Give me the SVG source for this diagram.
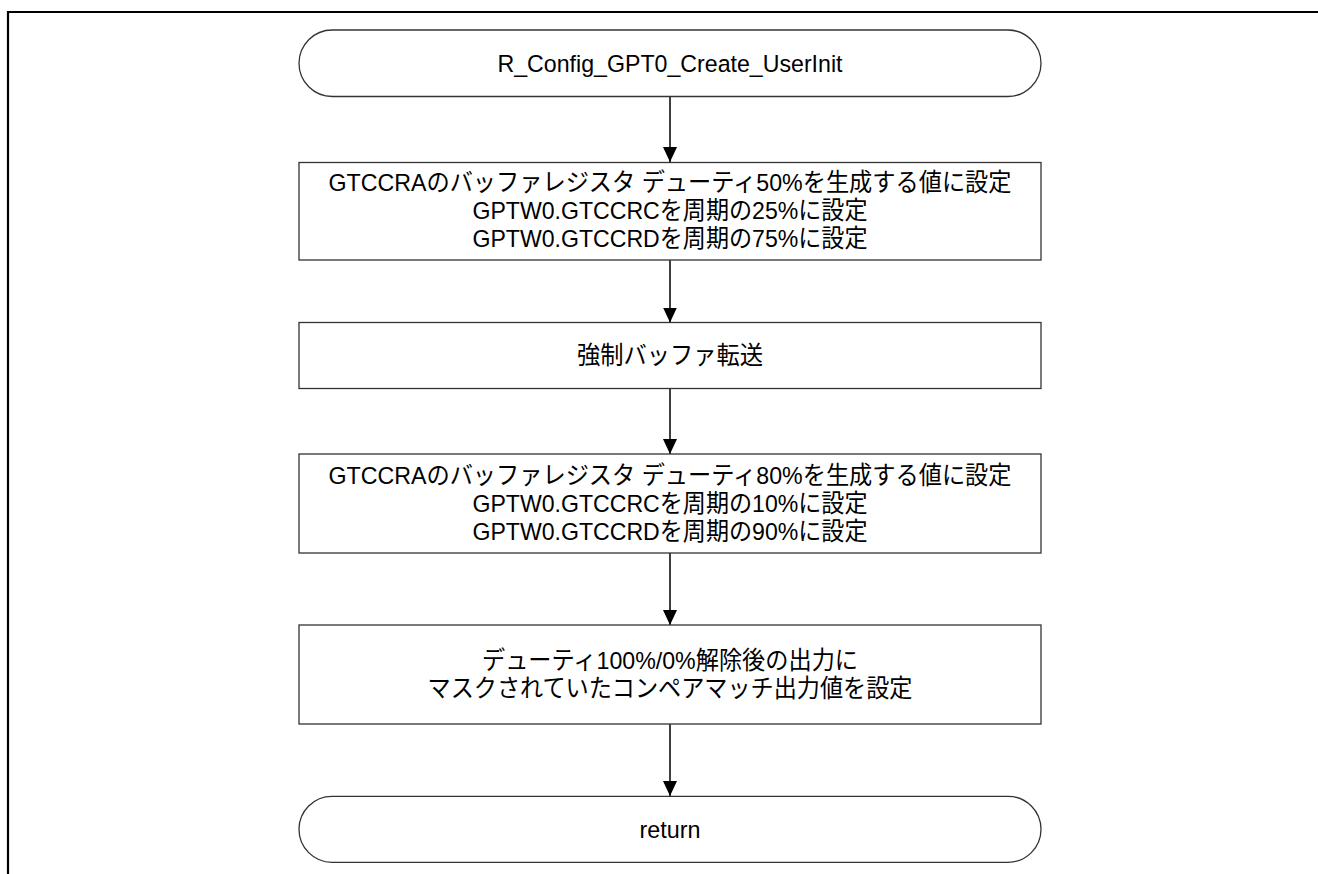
<svg xmlns="http://www.w3.org/2000/svg" width="1318" height="874" viewBox="0 0 1318 874">
<defs>
<style>
.frame{fill:none;stroke:#000;stroke-width:2.2}
.node{fill:#fff;stroke:#333;stroke-width:1.3}
.edge{fill:none;stroke:#000;stroke-width:1.5}
.t{font-family:"Liberation Sans","Noto Sans CJK JP",Arial,sans-serif;font-size:24.5px;fill:#000;text-anchor:middle}
</style>
<marker id="arr" markerUnits="userSpaceOnUse" markerWidth="16" markerHeight="16" viewBox="0 0 16 16" refX="15" refY="8" orient="auto">
<path d="M0,1 L15,8 L0,15 Z" fill="#000"/>
</marker>
</defs>
<rect width="1318" height="874" fill="#fff"/>
<path class="frame" d="M8,874 V12 H1318"/>
<g id="connectors">
<line class="edge" x1="670" y1="97" x2="670" y2="162" marker-end="url(#arr)"/>
<line class="edge" x1="670" y1="260" x2="670" y2="322.5" marker-end="url(#arr)"/>
<line class="edge" x1="670" y1="388.5" x2="670" y2="454" marker-end="url(#arr)"/>
<line class="edge" x1="670" y1="553" x2="670" y2="625" marker-end="url(#arr)"/>
<line class="edge" x1="670" y1="724" x2="670" y2="796" marker-end="url(#arr)"/>
</g>
<g id="start">
<rect class="node" x="299" y="30" width="742" height="66.5" rx="33.25" ry="33.25"/>
<text class="t" x="670" y="72" textLength="345" lengthAdjust="spacingAndGlyphs">R_Config_GPT0_Create_UserInit</text>
</g>
<g id="step1">
<rect class="node" x="299" y="162.5" width="742" height="97.5"/>
<text class="t" x="670" y="191" textLength="683" lengthAdjust="spacingAndGlyphs">GTCCRAのバッファレジスタ デューティ50%を生成する値に設定</text>
<text class="t" x="670" y="219" textLength="395" lengthAdjust="spacingAndGlyphs">GPTW0.GTCCRCを周期の25%に設定</text>
<text class="t" x="670" y="247" textLength="395" lengthAdjust="spacingAndGlyphs">GPTW0.GTCCRDを周期の75%に設定</text>
</g>
<g id="step2">
<rect class="node" x="299" y="322.5" width="742" height="66"/>
<text class="t" x="670" y="364" textLength="186" lengthAdjust="spacingAndGlyphs">強制バッファ転送</text>
</g>
<g id="step3">
<rect class="node" x="299" y="454" width="742" height="99"/>
<text class="t" x="670" y="484" textLength="683" lengthAdjust="spacingAndGlyphs">GTCCRAのバッファレジスタ デューティ80%を生成する値に設定</text>
<text class="t" x="670" y="512" textLength="395" lengthAdjust="spacingAndGlyphs">GPTW0.GTCCRCを周期の10%に設定</text>
<text class="t" x="670" y="540" textLength="395" lengthAdjust="spacingAndGlyphs">GPTW0.GTCCRDを周期の90%に設定</text>
</g>
<g id="step4">
<rect class="node" x="299" y="625" width="742" height="99"/>
<text class="t" x="670" y="669" textLength="376" lengthAdjust="spacingAndGlyphs">デューティ100%/0%解除後の出力に</text>
<text class="t" x="670" y="697" textLength="485" lengthAdjust="spacingAndGlyphs">マスクされていたコンペアマッチ出力値を設定</text>
</g>
<g id="end">
<rect class="node" x="299" y="796.3" width="742" height="66" rx="33" ry="33"/>
<text class="t" x="670" y="838" textLength="61" lengthAdjust="spacingAndGlyphs">return</text>
</g>
</svg>
